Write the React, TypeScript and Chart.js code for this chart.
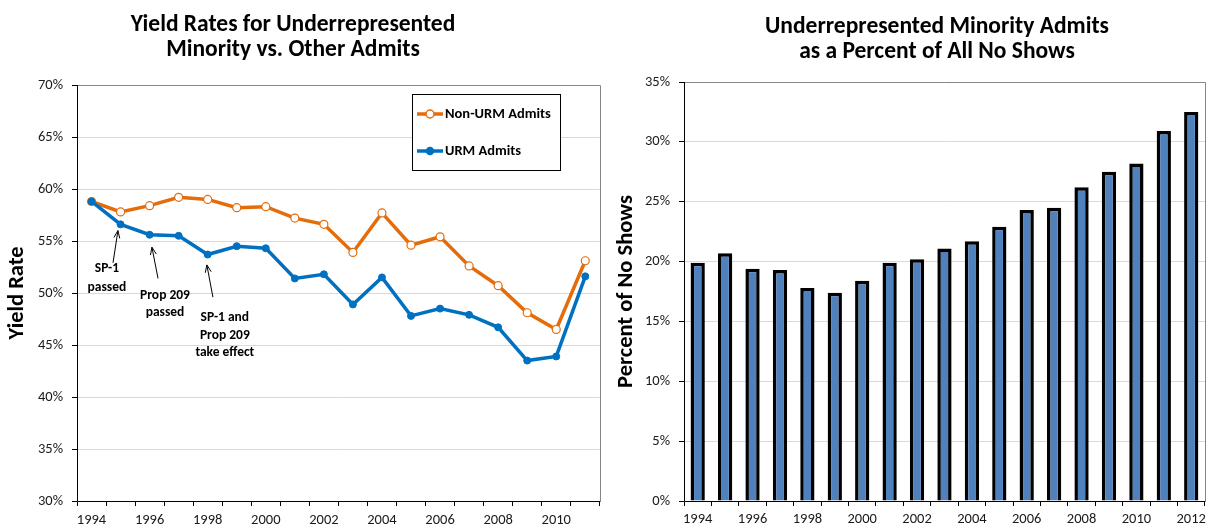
import React, { useEffect, useRef } from 'react';
import { Chart, registerables } from 'chart.js';

Chart.register(...registerables);

// ---------- data ----------
const lineYears = ['1994', '1995', '1996', '1997', '1998', '1999', '2000', '2001', '2002', '2003', '2004', '2005', '2006', '2007', '2008', '2009', '2010', '2011'];
const nonUrmYield = [58.8, 57.8, 58.4, 59.2, 59.0, 58.2, 58.3, 57.2, 56.6, 53.9, 57.7, 54.6, 55.4, 52.6, 50.7, 48.1, 46.5, 53.1];
const urmYield = [58.8, 56.6, 55.6, 55.5, 53.7, 54.5, 54.3, 51.4, 51.8, 48.9, 51.5, 47.8, 48.5, 47.9, 46.7, 43.5, 43.9, 51.6];

const barYears = ['1994', '1995', '1996', '1997', '1998', '1999', '2000', '2001', '2002', '2003', '2004', '2005', '2006', '2007', '2008', '2009', '2010', '2011', '2012'];
const urmShareOfNoShows = [19.9, 20.7, 19.4, 19.3, 17.8, 17.4, 18.4, 19.9, 20.2, 21.1, 21.7, 22.9, 24.3, 24.5, 26.2, 27.5, 28.2, 30.9, 32.5];

const leftTitle = ['Yield Rates for Underrepresented', 'Minority vs. Other Admits'];
const rightTitle = ['Underrepresented Minority Admits', 'as a Percent of All No Shows'];
const leftAxisTitle = 'Yield Rate';
const rightAxisTitle = 'Percent of No Shows';
const seriesNames = ['Non-URM Admits', 'URM Admits'];

// annotations: text lines at (category index, value), arrow from tail to head
const noteLines = [
  ['SP-1', 'passed'],
  ['Prop 209', 'passed'],
  ['SP-1 and', 'Prop 209', 'take effect'],
];
const noteX = [0.53, 2.53, 4.59];
const noteY = [
  [52.3, 50.5],
  [49.7, 48.1],
  [47.6, 45.9, 44.3],
];
const arrowTail = [[0.74, 52.9], [2.29, 51.4], [4.18, 49.6]];
const arrowHead = [[0.91, 56.0], [2.08, 54.4], [3.97, 52.7]];

// ---------- style ----------
const ORANGE = '#E46C0A';
const BLUE = '#0070C0';
const BAR_FILL = '#4F81BD';
const GRID = '#D9D9D9';
const FRAME = '#868686';
const TICK_COLOR = '#1a1a1a';

function hasFont(name: string): boolean {
  try {
    const c = document.createElement('canvas').getContext('2d')!;
    const t = 'abcdefghijklmnopqrstuvwxyzABCDEFGHIJ0123456789';
    c.font = '20px monospace';
    const a = c.measureText(t).width;
    c.font = `20px "${name}", monospace`;
    const b = c.measureText(t).width;
    return Math.abs(a - b) > 0.5;
  } catch (e) {
    return false;
  }
}
const CAL = hasFont('Carlito');
const FAMILY = CAL ? 'Carlito' : 'Lato, "Open Sans", sans-serif';
const SZ = {
  tick: CAL ? 14.5 : 14,
  title: CAL ? 23.5 : 21.5,
  axisTitle: CAL ? 22.5 : 20.5,
  legend: CAL ? 14.5 : 13.5,
  note: CAL ? 13.5 : 13,
};

function fitText(ctx: CanvasRenderingContext2D, text: string, x: number, y: number, maxW: number) {
  const w = ctx.measureText(text).width;
  if (w > maxW) ctx.fillText(text, x, y, maxW);
  else ctx.fillText(text, x, y);
}

function drawFrame(chart: any) {
  const { ctx, chartArea: a } = chart;
  ctx.save();
  ctx.lineWidth = 1;
  ctx.strokeStyle = FRAME;
  ctx.beginPath();
  ctx.moveTo(a.left, Math.round(a.top) + 0.5);
  ctx.lineTo(Math.round(a.right) + 0.5, Math.round(a.top) + 0.5);
  ctx.lineTo(Math.round(a.right) + 0.5, a.bottom);
  ctx.stroke();
  ctx.strokeStyle = '#000';
  ctx.beginPath();
  ctx.moveTo(Math.round(a.left) + 0.5, a.top);
  ctx.lineTo(Math.round(a.left) + 0.5, Math.round(a.bottom) + 0.5);
  ctx.lineTo(Math.round(a.right) + 0.5, Math.round(a.bottom) + 0.5);
  ctx.stroke();
  ctx.restore();
}

function drawTitles(ctx: CanvasRenderingContext2D, lines: string[], cx: number, baselines: number[], widths: number[]) {
  ctx.save();
  ctx.fillStyle = '#000';
  ctx.textAlign = 'center';
  ctx.textBaseline = 'alphabetic';
  ctx.font = `bold ${SZ.title}px ${FAMILY}`;
  lines.forEach((l, i) => fitText(ctx, l, cx, baselines[i], widths[i]));
  ctx.restore();
}

function drawAxisTitle(ctx: CanvasRenderingContext2D, text: string, cx: number, cy: number, maxW: number) {
  ctx.save();
  ctx.translate(cx, cy);
  ctx.rotate(-Math.PI / 2);
  ctx.fillStyle = '#000';
  ctx.textAlign = 'center';
  ctx.textBaseline = 'middle';
  ctx.font = `bold ${SZ.axisTitle}px ${FAMILY}`;
  fitText(ctx, text, 0, 1, maxW);
  ctx.restore();
}

function arrow(ctx: CanvasRenderingContext2D, x1: number, y1: number, x2: number, y2: number) {
  const ang = Math.atan2(y2 - y1, x2 - x1);
  const L = 8;
  const w = 0.38;
  ctx.beginPath();
  ctx.moveTo(x1, y1);
  ctx.lineTo(x2, y2);
  ctx.moveTo(x2 - L * Math.cos(ang - w), y2 - L * Math.sin(ang - w));
  ctx.lineTo(x2, y2);
  ctx.lineTo(x2 - L * Math.cos(ang + w), y2 - L * Math.sin(ang + w));
  ctx.stroke();
}

const leftDecor = {
  id: 'leftDecor',
  afterDatasetsDraw(chart: any) {
    drawFrame(chart);
    const { ctx, scales: { x, y } } = chart;
    ctx.save();
    // annotations
    ctx.fillStyle = '#000';
    ctx.strokeStyle = '#000';
    ctx.lineWidth = 1;
    ctx.textAlign = 'center';
    ctx.textBaseline = 'middle';
    ctx.font = `bold ${SZ.note}px ${FAMILY}`;
    noteLines.forEach((lines, i) => {
      lines.forEach((t, j) => {
        ctx.fillText(t, x.getPixelForValue(noteX[i]), y.getPixelForValue(noteY[i][j]));
      });
      arrow(
        ctx,
        x.getPixelForValue(arrowTail[i][0]), y.getPixelForValue(arrowTail[i][1]),
        x.getPixelForValue(arrowHead[i][0]), y.getPixelForValue(arrowHead[i][1])
      );
    });
    // legend
    const bx = 412.5, by = 94.5, bw = 148, bh = 76;
    ctx.fillStyle = '#fff';
    ctx.fillRect(bx, by, bw, bh);
    ctx.strokeStyle = '#000';
    ctx.lineWidth = 1;
    ctx.strokeRect(bx, by, bw, bh);
    const rows = [
      { y: 114, color: ORANGE, fill: '#fff', r: 4, name: seriesNames[0], w: 106 },
      { y: 151, color: BLUE, fill: BLUE, r: 3.5, name: seriesNames[1], w: 76 },
    ];
    rows.forEach((r) => {
      ctx.strokeStyle = r.color;
      ctx.lineWidth = 3.5;
      ctx.beginPath();
      ctx.moveTo(417, r.y);
      ctx.lineTo(443, r.y);
      ctx.stroke();
      ctx.beginPath();
      ctx.arc(430, r.y, r.r, 0, Math.PI * 2);
      ctx.fillStyle = r.fill;
      ctx.fill();
      ctx.lineWidth = 1.5;
      ctx.stroke();
      ctx.fillStyle = '#000';
      ctx.textAlign = 'left';
      ctx.textBaseline = 'middle';
      ctx.font = `bold ${SZ.legend}px ${FAMILY}`;
      fitText(ctx, r.name, 445, r.y + 0.5, r.w);
    });
    ctx.restore();
  },
  afterDraw(chart: any) {
    const { ctx, chartArea: a } = chart;
    drawTitles(ctx, leftTitle, 293, [31, 56], [330, 257]);
    drawAxisTitle(ctx, leftAxisTitle, 16, (a.top + a.bottom) / 2, 93);
  },
};

const rightDecor = {
  id: 'rightDecor',
  afterDatasetsDraw(chart: any) {
    drawFrame(chart);
  },
  afterDraw(chart: any) {
    const { ctx, chartArea: a } = chart;
    drawTitles(ctx, rightTitle, 332, [33, 58], [350, 291]);
    drawAxisTitle(ctx, rightAxisTitle, 20.5, (a.top + a.bottom) / 2, 198);
  },
};

const tickFont = () => ({ family: FAMILY, size: SZ.tick });

function LeftChart() {
  const ref = useRef<HTMLCanvasElement>(null);
  useEffect(() => {
    const chart = new Chart(ref.current!, {
      type: 'line',
      data: {
        labels: lineYears,
        datasets: [
          {
            label: seriesNames[1],
            data: urmYield,
            borderColor: BLUE,
            backgroundColor: BLUE,
            borderWidth: 3.5,
            pointRadius: 3.5,
            pointBorderWidth: 1,
            pointBackgroundColor: BLUE,
            pointBorderColor: BLUE,
            tension: 0,
          },
          {
            label: seriesNames[0],
            data: nonUrmYield,
            borderColor: ORANGE,
            backgroundColor: '#fff',
            borderWidth: 3.5,
            pointRadius: 4,
            pointBorderWidth: 1.2,
            pointBackgroundColor: '#fff',
            pointBorderColor: ORANGE,
            tension: 0,
          },
        ],
      },
      options: {
        animation: false,
        responsive: false,
        maintainAspectRatio: false,
        layout: { padding: { top: 85, right: 5, left: 0, bottom: 0 } },
        plugins: { legend: { display: false }, tooltip: { enabled: false }, title: { display: false } },
        scales: {
          x: {
            type: 'category',
            offset: true,
            border: { display: false },
            grid: { offset: true, drawOnChartArea: false, drawTicks: true, tickLength: 5, tickColor: '#000', color: '#000' },
            ticks: {
              autoSkip: false,
              maxRotation: 0,
              padding: 6,
              color: TICK_COLOR,
              font: tickFont(),
              callback: (_v: any, i: number) => (i % 2 === 0 ? lineYears[i] : ''),
            },
            afterFit: (s: any) => { s.height = 26; },
          },
          y: {
            min: 30,
            max: 70,
            border: { display: false },
            grid: { color: GRID, tickColor: '#000', tickLength: 5, drawTicks: true },
            ticks: { stepSize: 5, padding: 9, color: TICK_COLOR, font: tickFont(), callback: (v: any) => `${v}%` },
            afterFit: (s: any) => { s.width = 77; },
          },
        },
      } as any,
      plugins: [leftDecor],
    });
    return () => chart.destroy();
  }, []);
  return <canvas ref={ref} width={605} height={527} style={{ display: 'block', width: 605, height: 527 }} />;
}

function RightChart() {
  const ref = useRef<HTMLCanvasElement>(null);
  useEffect(() => {
    const chart = new Chart(ref.current!, {
      type: 'bar',
      data: {
        labels: barYears,
        datasets: [
          {
            label: rightTitle.join(' '),
            data: urmShareOfNoShows,
            backgroundColor: BAR_FILL,
            borderColor: '#000',
            borderWidth: 3.5,
            barPercentage: 0.52,
            categoryPercentage: 1,
          },
        ],
      },
      options: {
        animation: false,
        responsive: false,
        maintainAspectRatio: false,
        layout: { padding: { top: 82, right: 3, left: 0, bottom: 0 } },
        plugins: { legend: { display: false }, tooltip: { enabled: false }, title: { display: false } },
        scales: {
          x: {
            type: 'category',
            offset: true,
            border: { display: false },
            grid: { offset: true, drawOnChartArea: false, drawTicks: true, tickLength: 5, tickColor: '#000', color: '#000' },
            ticks: {
              autoSkip: false,
              maxRotation: 0,
              padding: 5,
              color: TICK_COLOR,
              font: tickFont(),
              callback: (_v: any, i: number) => (i % 2 === 0 ? barYears[i] : ''),
            },
            afterFit: (s: any) => { s.height = 26; },
          },
          y: {
            min: 0,
            max: 35,
            border: { display: false },
            grid: { color: GRID, tickColor: '#000', tickLength: 5, drawTicks: true },
            ticks: { stepSize: 5, padding: 9, color: TICK_COLOR, font: tickFont(), callback: (v: any) => `${v}%` },
            afterFit: (s: any) => { s.width = 79; },
          },
        },
      } as any,
      plugins: [rightDecor],
    });
    return () => chart.destroy();
  }, []);
  return <canvas ref={ref} width={606} height={527} style={{ display: 'block', width: 606, height: 527 }} />;
}

export default function App() {
  return (
    <div
      style={{
        position: 'fixed',
        left: 0,
        top: 0,
        width: 1211,
        height: 527,
        background: '#fff',
        display: 'flex',
        overflow: 'hidden',
      }}
    >
      <LeftChart />
      <RightChart />
    </div>
  );
}
